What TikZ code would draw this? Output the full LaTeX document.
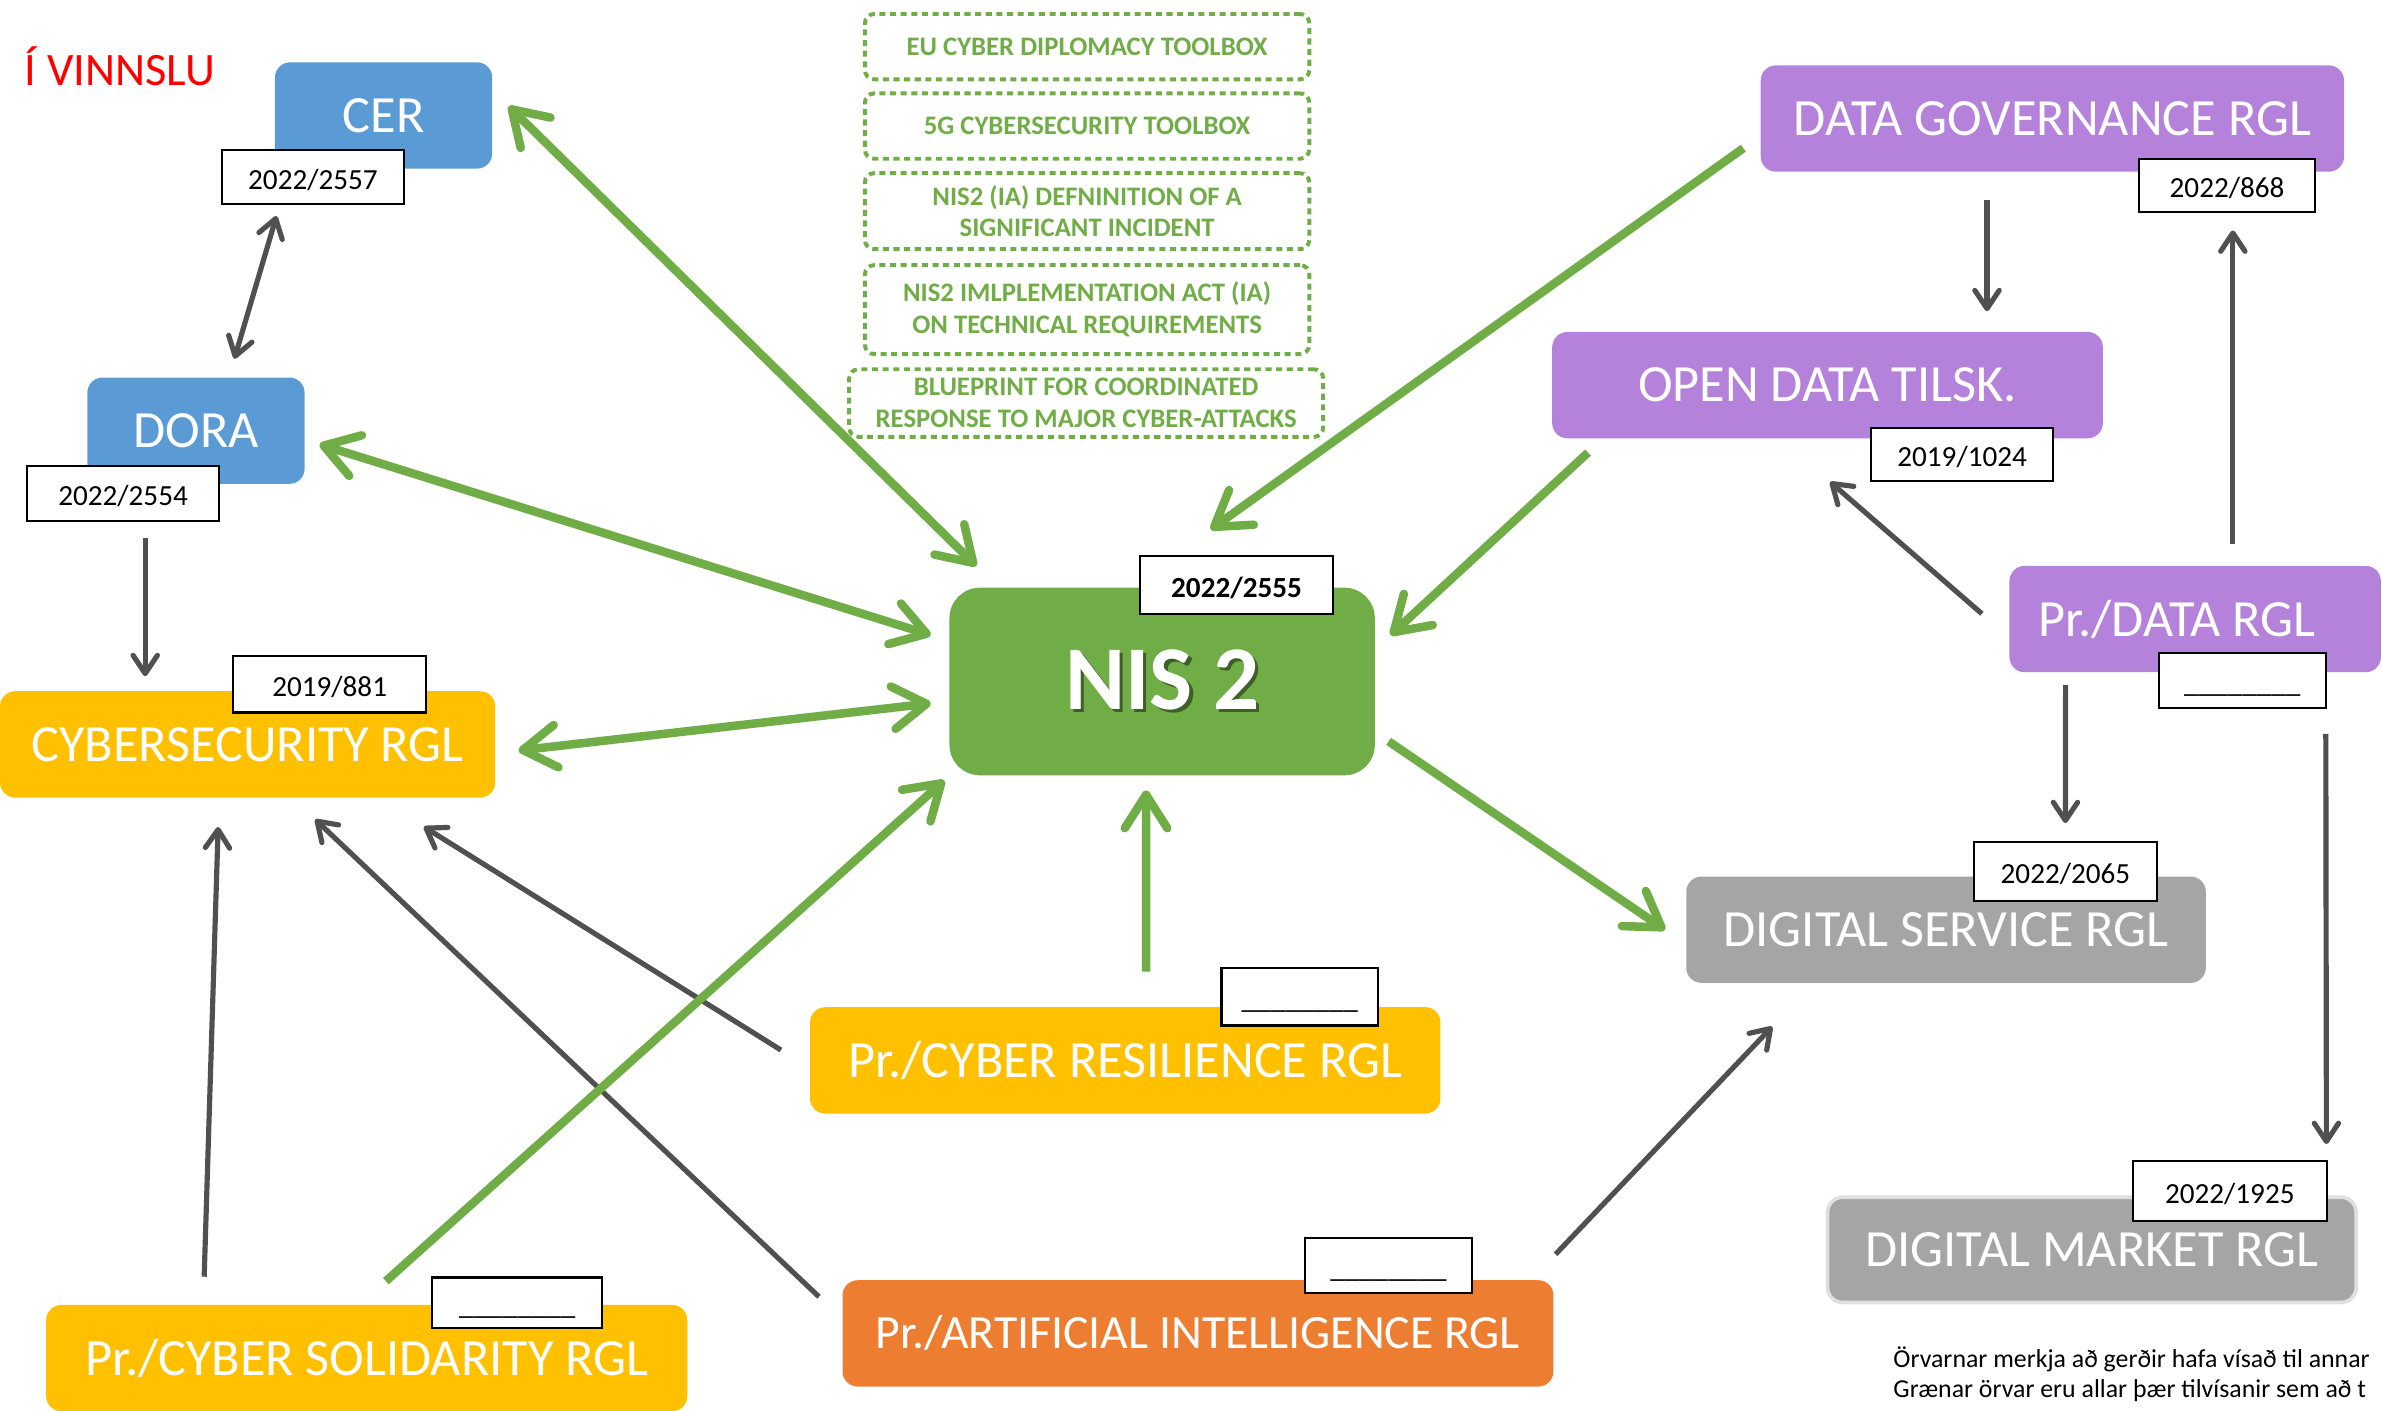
\documentclass[tikz,border=0pt]{standalone}
\usepackage{fontspec}
\setmainfont{Carlito}
\usetikzlibrary{calc,arrows.meta,positioning}

\definecolor{cerblue}{HTML}{5B9BD5}
\definecolor{nisgreen}{HTML}{70AD47}
\definecolor{datapurple}{HTML}{B482DA}
\definecolor{diggray}{HTML}{A5A5A5}
\definecolor{rglyellow}{HTML}{FFC000}
\definecolor{aiorange}{HTML}{ED7D31}
\definecolor{refgray}{HTML}{505050}

\newcommand{\nisshadow}[1]{\makebox[0pt][l]{\kern1.2pt\raisebox{-1.2pt}{\textcolor{nisgreen!55!black}{#1}}}#1}

\tikzset{
  gtip/.tip={Straight Barb[length=11pt,width=14pt,round]},
  ktip/.tip={Straight Barb[length=6pt,width=8pt,round]},
  rgl/.style={rounded corners=5pt, inner sep=0pt, minimum height=35pt, text=white, font=\fontsize{17.2}{21}\selectfont},
  nr/.style={draw, line width=0.7pt, fill=white, inner sep=0pt, text height=9pt, text depth=1pt, font=\fontsize{9.6}{12}\selectfont},
  tool/.style={draw=nisgreen, line width=1.3pt, dash pattern=on 2pt off 1.5pt, rounded corners=3pt, inner sep=0pt, align=center, text=nisgreen, font=\bfseries\fontsize{8.8}{10.5}\selectfont},
  garrow/.style={draw=nisgreen, line width=2.8pt, -gtip},
  gboth/.style={garrow, gtip-gtip},
  karrow/.style={draw=refgray, line width=1.7pt, -ktip},
  kboth/.style={karrow, ktip-ktip},
}

\begin{document}
\begin{tikzpicture}[x=0.5pt,y=-0.5pt]
    \useasboundingbox (0,0) rectangle (1568,928.8);
    \clip (0,0) rectangle (1568,928.8);

    \node[anchor=base west, inner sep=0pt, text=red, font=\fontsize{15.3}{18}\selectfont] (work) at (16,56) {Í VINNSLU};

    % toolboxes
    \node[tool, minimum width=146.25pt, minimum height=21.5pt] (tb1) at (715.6,30.7) {EU CYBER DIPLOMACY TOOLBOX};
    \node[tool, minimum width=146.25pt, minimum height=21.5pt] (tb2) at (715.6,83) {5G CYBERSECURITY TOOLBOX};
    \node[tool, minimum width=146.25pt, minimum height=25pt] (tb3) at (715.6,139) {NIS2 (IA) DEFNINITION OF A\\SIGNIFICANT INCIDENT};
    \node[tool, minimum width=146.25pt, minimum height=29.25pt] (tb4) at (715.6,203.8) {NIS2 IMLPLEMENTATION ACT (IA)\\ON TECHNICAL REQUIREMENTS};
    \node[tool, minimum width=156pt, minimum height=22.25pt] (tb5) at (715,265.3) {BLUEPRINT FOR COORDINATED\\RESPONSE TO MAJOR CYBER-ATTACKS};

    % regulations
    \node[rgl, fill=cerblue, minimum width=71.5pt] (cer) at (252.5,76) {CER};
    \node[rgl, fill=cerblue, minimum width=71.5pt] (dora) at (129,283.5) {DORA};
    \node[rgl, fill=rglyellow, minimum width=163pt] (cyber) at (163,490) {CYBERSECURITY RGL};
    \node[rgl, fill=nisgreen, minimum width=140pt, minimum height=61.75pt, rounded corners=10pt,
      font=\bfseries\fontsize{30}{36}\selectfont] (nis) at (765,448.6) {\nisshadow{NIS 2}};
    \node[rgl, fill=datapurple, minimum width=192pt] (datagov) at (1351,78) {DATA GOVERNANCE RGL};
    \node[rgl, fill=datapurple, minimum width=181.25pt] (opendata) at (1203,253.5) {OPEN DATA TILSK.};
    \node[rgl, fill=datapurple, minimum width=122.25pt] (prdata) at (1445,407.5) {Pr./DATA RGL\kern12pt};
    \node[rgl, fill=diggray, minimum width=171pt] (digserv) at (1281,612) {DIGITAL SERVICE RGL};
    \node[rgl, fill=diggray, draw=gray!25, line width=1.2pt, minimum width=174pt, minimum height=34.65pt] (digmkt) at (1377,822.7) {DIGITAL MARKET RGL};
    \node[rgl, fill=rglyellow, minimum width=207.5pt] (resil) at (740.7,698) {Pr./CYBER RESILIENCE RGL};
    \node[rgl, fill=aiorange, minimum width=234pt, font=\fontsize{15.7}{19}\selectfont] (ai) at (788.6,877.7) {Pr./ARTIFICIAL INTELLIGENCE RGL};
    \node[rgl, fill=rglyellow, minimum width=211pt] (solid) at (241.4,894) {Pr./CYBER SOLIDARITY RGL};

    % numbers
    \node[nr, minimum width=60pt, minimum height=17.5pt] (l2557) at (206,116.5) {2022/2557};
    \node[nr, minimum width=63pt, minimum height=18pt] (l2554) at (81,325) {2022/2554};
    \node[nr, minimum width=63.5pt, minimum height=18.5pt] (l881) at (217,450.5) {2019/881};
    \node[nr, minimum width=63.5pt, minimum height=19pt, font=\bfseries\fontsize{9.6}{12}\selectfont] (l2555) at (814,385) {2022/2555};
    \node[nr, minimum width=58pt, minimum height=17.5pt] (l868) at (1466,122) {2022/868};
    \node[nr, minimum width=60pt, minimum height=17.5pt] (l1024) at (1291.6,299) {2019/1024};
    \node[nr, minimum width=55pt, minimum height=18pt] (lprdata) at (1476,448) {\_\_\_\_\_\_\_\_};
    \node[nr, minimum width=60pt, minimum height=19.5pt] (l2065) at (1359.6,573.6) {2022/2065};
    \node[nr, minimum width=63.75pt, minimum height=19.75pt] (l1925) at (1467.8,784) {2022/1925};
    \node[nr, minimum width=51.5pt, minimum height=19pt] (lresil) at (855.6,656) {\_\_\_\_\_\_\_\_};
    \node[nr, minimum width=55pt, minimum height=18pt] (lai) at (914,833) {\_\_\_\_\_\_\_\_};
    \node[nr, minimum width=56pt, minimum height=16.5pt] (lsolid) at (340.5,857.4) {\_\_\_\_\_\_\_\_};

    % references to other acts
    \draw[kboth] ($(l2557.south)+(-24,7.5)$) -- ($(dora.north)+(25.3,-12)$);
    \draw[karrow] ($(l2554.south)+(14.6,10.5)$) -- ($(cyber.north)+(-67.4,-9.5)$);
    \draw[karrow] ($(solid.north)+(-107,-18.2)$) -- ($(cyber.south)+(-19.4,19)$);
    \draw[karrow] ($(ai.north west)+(-15.1,11.3)$) -- ($(cyber.south)+(44.5,14)$);
    \draw[karrow] ($(resil.west)+(-18.7,-6.8)$) -- ($(cyber.south)+(116,18.8)$);
    \draw[karrow] ($(ai.north east)+(1,-16.7)$) -- ($(digserv.south west)+(57,28.4)$);
    \draw[karrow] ($(datagov.south)+(-43,18.5)$) -- ($(opendata.north)+(105,-13.25)$);
    \draw[karrow] ($(prdata.north)+(24.8,-14)$) -- ($(l868.south)+(3.8,11.5)$);
    \draw[karrow] ($(prdata.west)+(-17.75,-3.5)$) -- ($(opendata.south)+(1.7,28.3)$);
    \draw[karrow] ($(prdata.south)+(-85.3,8)$) -- ($(l2065.north)+(0,-11.6)$);
    \draw[karrow] ($(lprdata.south)+(55,16.3)$) -- ($(l1925.north)+(63.6,-10.5)$);

    % references to NIS 2
    \draw[gboth] ($(cer.east)+(10.5,-6)$) -- ($(nis.north west)+(18,-14)$);
    \draw[gboth] ($(dora.east)+(9.5,9)$) -- ($(nis.west)+(-12,-30.6)$);
    \draw[gboth] ($(cyber.east)+(15,4)$) -- ($(nis.west)+(-12,14.4)$);
    \draw[garrow] ($(solid.north)+(12.6,-15.3)$) -- ($(nis.south west)+(-3,3)$);
    \draw[garrow] ($(resil.north)+(13.7,-23)$) -- ($(nis.south)+(-10.6,9.6)$);
    \draw[garrow] ($(datagov.west)+(-11,19.5)$) -- ($(nis.north)+(32,-38)$);
    \draw[garrow] ($(opendata.south west)+(24,9)$) -- ($(nis.east)+(10,-30.6)$);
    \draw[garrow] ($(nis.east)+(8.7,39.4)$) -- ($(digserv.west)+(-13.6,0)$);

    \node[anchor=base west, inner sep=0pt, font=\fontsize{8.5}{10}\selectfont] (note1) at (1246,900) {Örvarnar merkja að gerðir hafa vísað til annar};
    \node[anchor=base west, inner sep=0pt, font=\fontsize{8.5}{10}\selectfont] (note2) at (1246,920) {Grænar örvar eru allar þær tilvísanir sem að t};
\end{tikzpicture}
\end{document}
